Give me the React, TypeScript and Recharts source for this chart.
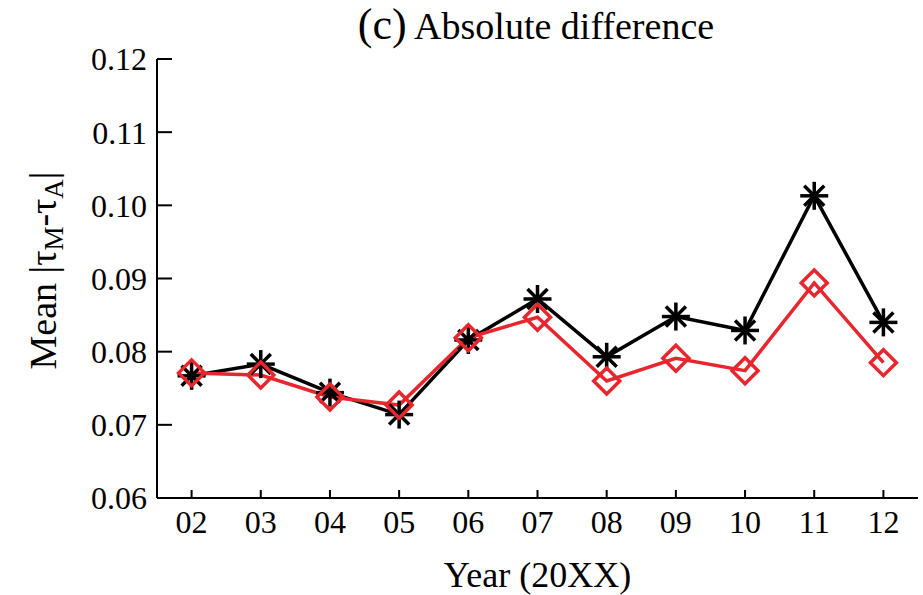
import React from 'react';
import { LineChart, Line, XAxis, YAxis } from 'recharts';

const YEARS = [2, 3, 4, 5, 6, 7, 8, 9, 10, 11, 12];
const BLACK_VALUES = [0.0767, 0.0783, 0.0744, 0.0714, 0.0816, 0.0872, 0.0793, 0.0848, 0.0829, 0.1013, 0.0840];
const RED_VALUES = [0.0771, 0.0768, 0.0738, 0.0727, 0.0819, 0.0847, 0.0760, 0.0791, 0.0774, 0.0894, 0.0785];
const Y_TICKS = [0.06, 0.07, 0.08, 0.09, 0.1, 0.11, 0.12];

const RED = '#e8262d';
const FONT = 'Liberation Serif, DejaVu Serif, serif';

const data = YEARS.map((year, i) => ({
  year,
  black: BLACK_VALUES[i],
  red: RED_VALUES[i],
}));

const StarDot = (props: any) => {
  const { cx, cy, index } = props;
  if (cx == null || cy == null) return null;
  const r = 14;
  const d = 10;
  return (
    <g key={`s-${index}`} stroke="#000" strokeWidth={3.5}>
      <line x1={cx - r} y1={cy} x2={cx + r} y2={cy} />
      <line x1={cx} y1={cy - r} x2={cx} y2={cy + r} />
      <line x1={cx - d} y1={cy - d} x2={cx + d} y2={cy + d} />
      <line x1={cx - d} y1={cy + d} x2={cx + d} y2={cy - d} />
    </g>
  );
};

const DiamondDot = (props: any) => {
  const { cx, cy, index } = props;
  if (cx == null || cy == null) return null;
  const r = 13;
  return (
    <path
      key={`d-${index}`}
      d={`M${cx},${cy - r}L${cx + r},${cy}L${cx},${cy + r}L${cx - r},${cy}Z`}
      fill="none"
      stroke={RED}
      strokeWidth={3.5}
    />
  );
};

// rotated y label with subscripts, baseline sits just left of the tick labels
const YLabel = (props: any) => {
  const vb = props.viewBox || {};
  const cx = 56;
  const cy = (vb.y ?? 59) + (vb.height ?? 439) / 2 - 8;
  return (
    <text
      x={cx}
      y={cy}
      transform={`rotate(-90 ${cx} ${cy})`}
      textAnchor="middle"
      fontFamily={FONT}
      fontSize={38}
      fill="#000"
    >
      Mean |τ
      <tspan fontSize={27} dy={7}>M</tspan>
      <tspan dy={-7}>-τ</tspan>
      <tspan fontSize={27} dy={7}>A</tspan>
      <tspan dy={-7}>|</tspan>
    </text>
  );
};

const tickStyle = { fill: '#000', fontSize: 32, fontFamily: FONT };

export default function App() {
  return (
    <div style={{ position: 'absolute', left: 0, top: 0, width: 923, height: 595, background: '#fff' }}>
      <div
        style={{
          position: 'absolute',
          left: 0,
          width: 1072,
          top: 0,
          textAlign: 'center',
          fontFamily: FONT,
          fontSize: 38,
          color: '#000',
          lineHeight: '50px',
        }}
      >
        <span style={{ fontSize: 44 }}>(c)</span> Absolute difference
      </div>
      <LineChart width={923} height={595} data={data} margin={{ top: 59, right: 5, bottom: 0, left: 0 }}>
        <XAxis
          dataKey="year"
          type="number"
          domain={[1.5, 12.5]}
          ticks={YEARS}
          tickFormatter={(v: number) => String(v).padStart(2, '0')}
          height={97}
          tickSize={-8}
          tickMargin={20}
          tick={tickStyle}
          axisLine={{ stroke: '#000', strokeWidth: 2 }}
          tickLine={{ stroke: '#000', strokeWidth: 2 }}
          label={{
            value: 'Year (20XX)',
            position: 'insideBottom',
            offset: 8,
            fill: '#000',
            fontSize: 36,
            fontFamily: FONT,
          }}
        />
        <XAxis
          xAxisId="top"
          orientation="top"
          dataKey="year"
          type="number"
          domain={[1.5, 12.5]}
          ticks={YEARS}
          tickFormatter={() => ''}
          height={0}
          tickSize={-8}
          axisLine={{ stroke: '#000', strokeWidth: 2 }}
          tickLine={{ stroke: '#000', strokeWidth: 2 }}
        />
        <YAxis
          type="number"
          domain={[0.06, 0.12]}
          ticks={Y_TICKS}
          tickFormatter={(v: number) => v.toFixed(2)}
          width={157}
          tickSize={-15}
          tickMargin={25}
          tick={tickStyle}
          axisLine={{ stroke: '#000', strokeWidth: 2 }}
          tickLine={{ stroke: '#000', strokeWidth: 2 }}
          label={{ content: YLabel }}
        />
        <YAxis
          yAxisId="right"
          orientation="right"
          type="number"
          domain={[0.06, 0.12]}
          ticks={Y_TICKS}
          tickFormatter={() => ''}
          width={0}
          tickSize={-15}
          axisLine={{ stroke: '#000', strokeWidth: 2 }}
          tickLine={{ stroke: '#000', strokeWidth: 2 }}
        />
        <Line
          dataKey="black"
          stroke="#000"
          strokeWidth={3.5}
          dot={StarDot}
          isAnimationActive={false}
        />
        <Line
          dataKey="red"
          stroke={RED}
          strokeWidth={3.5}
          dot={DiamondDot}
          isAnimationActive={false}
        />
      </LineChart>
    </div>
  );
}
